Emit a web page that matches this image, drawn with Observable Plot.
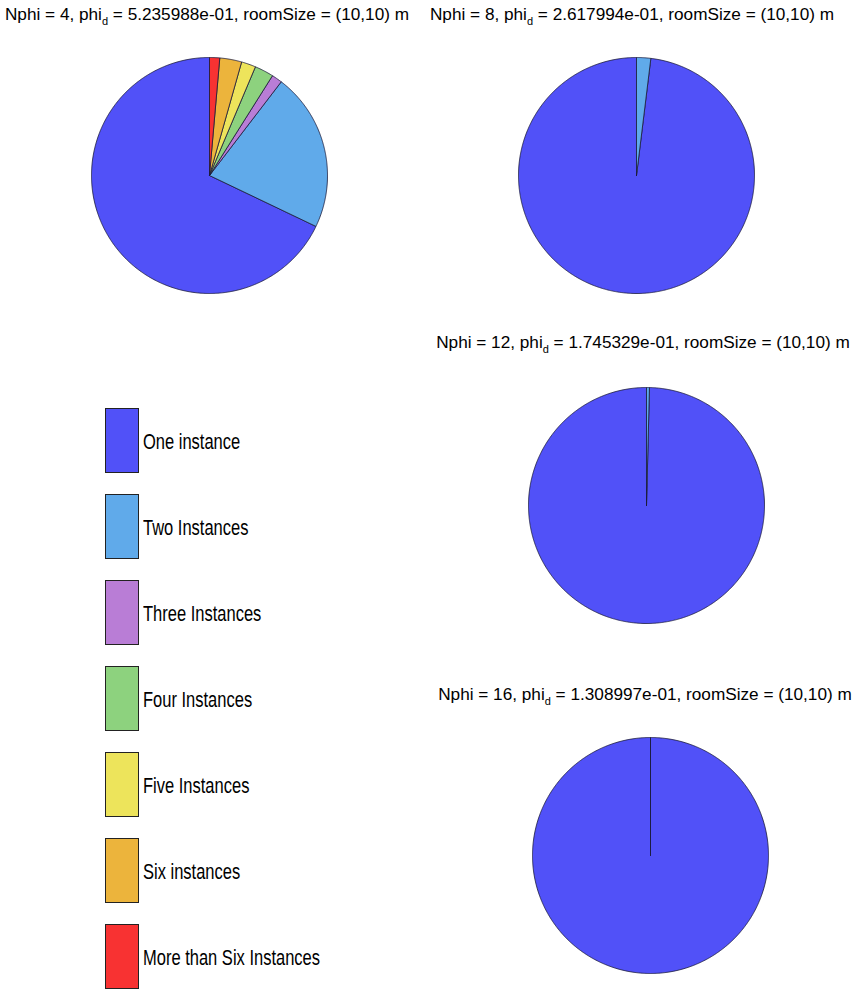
<!DOCTYPE html>
<html><head><meta charset="utf-8">
<script src="https://cdn.jsdelivr.net/npm/d3@7"></script>
<script src="https://cdn.jsdelivr.net/npm/@observablehq/plot@0.6"></script>
<style>
body{margin:0;background:#fff;font-family:"Liberation Sans",Arial,sans-serif}
#root{position:relative;width:855px;height:989px;overflow:hidden;background:#fff}
.title{position:absolute;width:560px;text-align:center;font-size:17.2px;white-space:nowrap;color:#000;line-height:18px}
.title sub{font-size:11px;vertical-align:-5px;line-height:0}
.pie{position:absolute}
.leg{position:absolute;left:105px;width:34px;height:65px;box-sizing:border-box;border:1px solid #222}
.legtxt{position:absolute;left:143px;font-size:22px;white-space:nowrap;transform:scaleX(0.75);transform-origin:0 50%;line-height:26px;color:#000}
</style></head>
<body><div id="root"></div>
<script>
const categories = ["One instance","Two Instances","Three Instances","Four Instances","Five Instances","Six instances","More than Six Instances"];
const colors = ["#5151f8","#60aaea","#b97dd6","#8dd27e","#ede45b","#ecb43c","#f83232"];
const nphi = [4, 8, 12, 16];
const phiD = ["5.235988e-01","2.617994e-01","1.745329e-01","1.308997e-01"];
const roomSize = "(10,10)";
// percentage of each category, per Nphi
const pie4  = [67.9, 21.7, 1.44, 2.6, 1.97, 3.0, 1.39];
const pie8  = [98.06, 1.94, 0, 0, 0, 0, 0];
const pie12 = [99.6, 0.4, 0, 0, 0, 0, 0];
const pie16 = [100, 0, 0, 0, 0, 0, 0];
const pieValues = [pie4, pie8, pie12, pie16];

// layout (pixels)
const centers = [[209,175],[636,175],[646,505],[650,855]];
const titleCenters = [[207,5],[632,5],[643,333],[645,685]];
const R = 118;

const root = document.getElementById("root");

function piePolys(values){
  const total = d3.sum(values);
  const rows = []; let a = 0;
  values.forEach((v,i) => {
    if (v <= 0) return;
    const a0 = a, a1 = a + v/total*2*Math.PI; a = a1;
    const n = Math.max(2, Math.ceil((a1-a0)/(Math.PI/360)));
    rows.push({k:i, x:0, y:0, c:colors[i]});
    for (let j=0;j<=n;j++){
      const t = a0 + (a1-a0)*j/n;
      rows.push({k:i, x:-Math.sin(t), y:Math.cos(t), c:colors[i]});
    }
    rows.push({k:i, x:0, y:0, c:colors[i]});
  });
  return rows;
}

pieValues.forEach((vals, p) => {
  const rows = piePolys(vals);
  const chart = Plot.plot({
    width: 2*R+2, height: 2*R+2, margin: 1,
    x: {domain:[-1,1], axis:null},
    y: {domain:[-1,1], axis:null},
    color: {type:"identity"},
    marks: [
      Plot.line(rows, {x:"x", y:"y", z:"k", fill:"c", stroke:"#1a1a3a", strokeWidth:0.8, strokeLinejoin:"round"})
    ]
  });
  const wrap = document.createElement("div");
  wrap.className = "pie";
  wrap.style.left = (centers[p][0]-R-1)+"px";
  wrap.style.top = (centers[p][1]-R-1)+"px";
  wrap.appendChild(chart);
  root.appendChild(wrap);

  const t = document.createElement("div");
  t.className = "title";
  t.style.left = (titleCenters[p][0]-280)+"px";
  t.style.top = titleCenters[p][1]+"px";
  t.innerHTML = `Nphi = ${nphi[p]}, phi<sub>d</sub> = ${phiD[p]}, roomSize = ${roomSize} m`;
  root.appendChild(t);
});

// legend
categories.forEach((c,i) => {
  const top = 408 + i*86;
  const b = document.createElement("div");
  b.className = "leg";
  b.style.top = top+"px";
  b.style.background = colors[i];
  root.appendChild(b);
  const l = document.createElement("div");
  l.className = "legtxt";
  l.style.top = (top + 34 - 13)+"px";
  l.textContent = c;
  root.appendChild(l);
});
</script>
</body></html>
